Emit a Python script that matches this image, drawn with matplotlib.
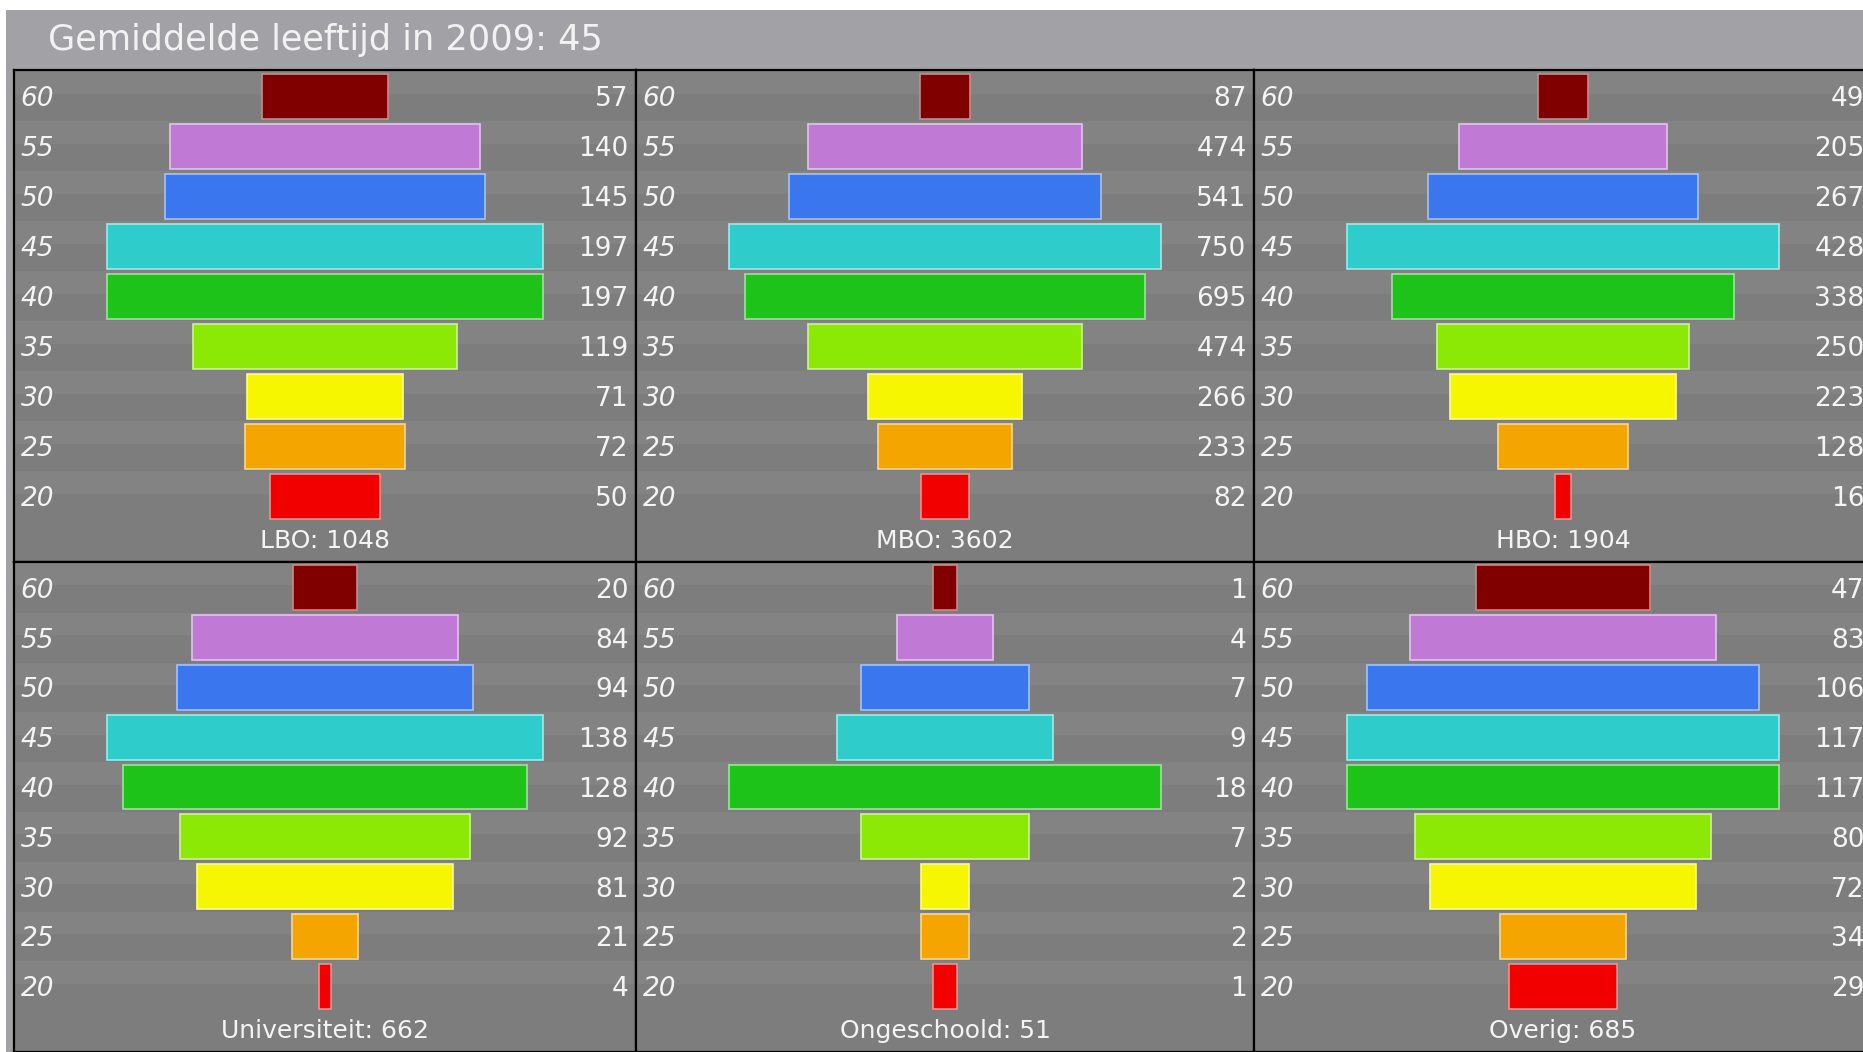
import numpy as np
import matplotlib
matplotlib.use("Agg")
import matplotlib.pyplot as plt
import matplotlib.colors as mcolors
from matplotlib.patches import Rectangle

# Age groups, top to bottom
ages = ["60", "55", "50", "45", "40", "35", "30", "25", "20"]
bar_colors = ["#800000", "#c07ad6", "#3a76ee", "#2ecdcc", "#1ec31a",
              "#8ce805", "#f6f600", "#f5a500", "#f20000"]

# Counts per education level (same order as ages)
lbo = [57, 140, 145, 197, 197, 119, 71, 72, 50]
mbo = [87, 474, 541, 750, 695, 474, 266, 233, 82]
hbo = [49, 205, 267, 428, 338, 250, 223, 128, 16]
universiteit = [20, 84, 94, 138, 128, 92, 81, 21, 4]
ongeschoold = [1, 4, 7, 9, 18, 7, 2, 2, 1]
overig = [47, 83, 106, 117, 117, 80, 72, 34, 29]

panel_names = ["LBO", "MBO", "HBO", "Universiteit", "Ongeschoold", "Overig"]
panel_values = [lbo, mbo, hbo, universiteit, ongeschoold, overig]

title = "Gemiddelde leeftijd in 2009: 45"

W, H = 1863, 1052
fig = plt.figure(figsize=(W / 100, H / 100), dpi=100, facecolor="white")
plt.rcParams['font.family'] = ['DejaVu Sans']


def px_axes(x0, y0, x1, y1):
    return fig.add_axes([x0 / W, 1 - y1 / H, (x1 - x0) / W, (y1 - y0) / H])


# title bar / outer frame
frame = px_axes(6, 10, W + 5, H + 5)
frame.set_xlim(0, 1)
frame.set_ylim(0, 1)
frame.axis("off")
frame.add_patch(Rectangle((0, 0), 1, 1, facecolor="#a2a2a6", edgecolor="none"))
fig.text(48 / W, 1 - 40 / H, title, color="#f2f2f2", fontsize=25.3,
         va="center", ha="left")

col_edges = [14, 636, 1254, 1872]
row_edges = [70, 562, 1052]

pos = np.arange(len(ages))
for k, (name, vals) in enumerate(zip(panel_names, panel_values)):
    r, c = divmod(k, 3)
    ax = px_axes(col_edges[c], row_edges[r], col_edges[c + 1], row_edges[r + 1])
    vals = np.array(vals, dtype=float)
    half = vals.max() / 2 / 0.70
    ax.set_xlim(-half, half)
    ax.set_ylim(9.32, -0.52)
    ax.set_facecolor("#7d7d7d")

    # faint horizontal banding of the background
    for i in pos:
        ax.axhspan(i - 0.5, i - 0.05, color="#838383", lw=0, zorder=0)

    edges = [mcolors.to_hex(0.45 * np.array(mcolors.to_rgb(col)) + 0.55)
             for col in bar_colors]
    ax.barh(pos, vals, left=-vals / 2, height=0.9, color=bar_colors,
            edgecolor=edges, linewidth=1.2, zorder=2)

    tr = ax.get_yaxis_transform()
    for i, (a, v) in enumerate(zip(ages, vals)):
        ax.text(0.011, i + 0.06, a, transform=tr, ha="left", va="center",
                fontsize=19, style="italic", color="#f4f4f4")
        ax.text(0.988, i + 0.06, f"{int(v)}", transform=tr, ha="right",
                va="center", fontsize=19, color="#f4f4f4")
    ax.text(0.5, 8.9, f"{name}: {int(vals.sum())}", transform=tr,
            ha="center", va="center", fontsize=18, color="#f4f4f4")

    ax.set_xticks([])
    ax.set_yticks([])
    for s in ax.spines.values():
        s.set_color("black")
        s.set_linewidth(1.6)

fig.savefig("out.png", dpi=100, facecolor="white")
